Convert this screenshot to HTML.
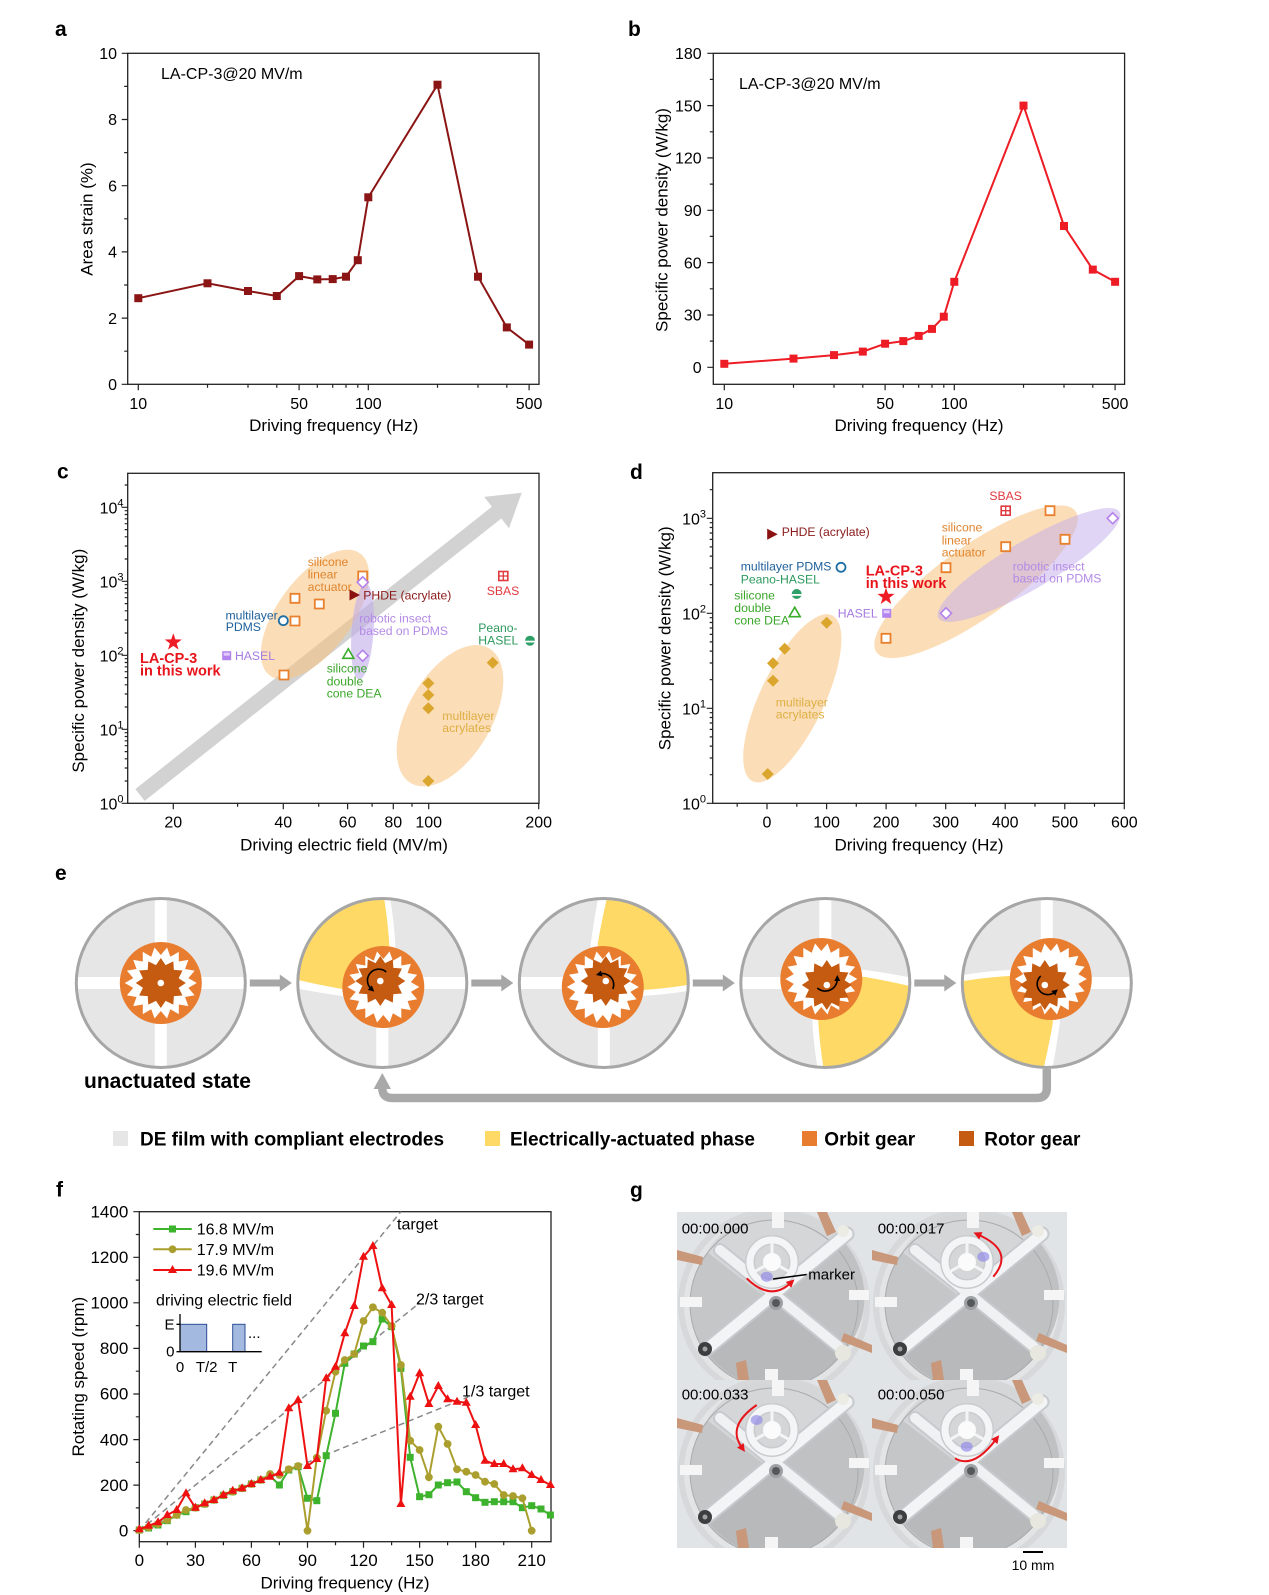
<!DOCTYPE html>
<html><head><meta charset="utf-8">
<style>html,body{margin:0;padding:0;background:#fff}svg{display:block}text{font-family:"Liberation Sans",Arial,sans-serif;fill:#000}</style>
</head>
<body>
<svg width="1269" height="1595" viewBox="0 0 1269 1595" xmlns="http://www.w3.org/2000/svg">
<defs>
<marker id="mA" markerWidth="8" markerHeight="8" refX="4" refY="4" markerUnits="userSpaceOnUse" overflow="visible"><rect width="8" height="8" fill="#8b1414"/></marker>
<marker id="mB" markerWidth="8" markerHeight="8" refX="4" refY="4" markerUnits="userSpaceOnUse" overflow="visible"><rect width="8" height="8" fill="#ee1c24"/></marker>
<marker id="mG" markerWidth="7" markerHeight="7" refX="3.5" refY="3.5" markerUnits="userSpaceOnUse" overflow="visible"><rect width="7" height="7" fill="#3db22d"/></marker>
<marker id="mO" markerWidth="8" markerHeight="8" refX="4" refY="4" markerUnits="userSpaceOnUse" overflow="visible"><circle cx="4" cy="4" r="3.9" fill="#aa9f2e"/></marker>
<marker id="mR" markerWidth="9" markerHeight="9" refX="4.5" refY="5" markerUnits="userSpaceOnUse" overflow="visible"><path d="M4.5 0L9 8H0z" fill="#ee1111"/></marker>
<marker id="ahK" markerWidth="6" markerHeight="6" refX="2" refY="3" orient="auto" markerUnits="userSpaceOnUse" overflow="visible"><path d="M0 0L6 3L0 6z" fill="#000"/></marker>
<marker id="ahR" markerWidth="8" markerHeight="8" refX="2" refY="4" orient="auto" markerUnits="userSpaceOnUse" overflow="visible"><path d="M0 0L8 4L0 8z" fill="#e8141c"/></marker>

<path id="osq" d="M-4.5-4.5h9v9h-9z" fill="#fff" stroke="#e9802d" stroke-width="1.8"/>
<path id="pdia" d="M0-5.5L5.5 0 0 5.5-5.5 0z" fill="#fff" stroke="#b581ea" stroke-width="1.6"/>
<path id="gdia" d="M0-6L6 0 0 6-6 0z" fill="#dba62e"/>
<circle id="bcir" r="4.5" fill="#fff" stroke="#1d6fa5" stroke-width="1.8"/>
<path id="rtri" d="M-4.5-5.5L6 0-4.5 5.5z" fill="#8b1010"/>
<path id="gtri" d="M0-5.5L5.5 4-5.5 4z" fill="#fff" stroke="#3aab2a" stroke-width="1.6"/>
<g id="hsq"><rect x="-4.5" y="-4.5" width="9" height="9" fill="#b383ee"/><rect x="-3" y="-3" width="6" height="3" fill="#e0cdfb"/></g>
<g id="sbas"><rect x="-4.5" y="-4.5" width="9" height="9" fill="#fff" stroke="#e0393e" stroke-width="1.6"/><path d="M0-4.5v9M-4.5 0h9" stroke="#e0393e" stroke-width="1.3"/></g>
<g id="pean"><circle r="5" fill="#2e9f66"/><rect x="-5" y="0" width="10" height="1.8" fill="#fff"/></g>
<polygon id="star" points="0,-10 2.35,-3.24 9.51,-3.09 3.8,1.24 5.88,8.09 0,4 -5.88,8.09 -3.8,1.24 -9.51,-3.09 -2.35,-3.24" fill="#ee1c25"/>

<g id="diskU">
<circle r="84" fill="#fff"/>
<g fill="#e6e6e6">
<path d="M-6-6L-83.79-6A84 84 0 0 1-6-83.79Z"/>
<path d="M6-6L6-83.79A84 84 0 0 1 83.79-6Z"/>
<path d="M6 6L83.79 6A84 84 0 0 1 6 83.79Z"/>
<path d="M-6 6L-6 83.79A84 84 0 0 1-83.79 6Z"/>
</g>
<circle r="84.5" fill="none" stroke="#a6a6a6" stroke-width="3"/>
</g>
<g id="diskA">
<circle r="84" fill="#fff"/>
<path d="M2-83.98Q9-40 8 6L-40 6Q-68 1-83.95-3A84 84 0 0 1 2-83.98Z" fill="#fed966"/>
<g fill="#e6e6e6">
<path d="M13-6L83.79-6A84 84 0 0 0 8-83.62Q15-40 13-6Z"/>
<path d="M6 6L83.79 6A84 84 0 0 1 6 83.79Z"/>
<path d="M-6 13L-6 83.79A84 84 0 0 1-83.8 5.8Q-68 9-40 13Z"/>
</g>
<circle r="84.5" fill="none" stroke="#a6a6a6" stroke-width="3"/>
</g>
<g id="orbit"><circle r="41" fill="#e97d2f"/><polygon fill="#fff" points="36,0 27.57,4.86 33.83,12.31 24.25,14 27.58,23.14 18,21.45 18,31.18 9.58,26.31 6.25,35.45 0,28 -6.25,35.45 -9.58,26.31 -18,31.18 -18,21.45 -27.58,23.14 -24.25,14 -33.83,12.31 -27.57,4.86 -36,0 -27.57,-4.86 -33.83,-12.31 -24.25,-14 -27.58,-23.14 -18,-21.45 -18,-31.18 -9.58,-26.31 -6.25,-35.45 0,-28 6.25,-35.45 9.58,-26.31 18,-31.18 18,-21.45 27.58,-23.14 24.25,-14 33.83,-12.31 27.57,-4.86"/></g>
<g id="rotor"><polygon fill="#c55a11" points="25,0 17.87,4.79 21.65,12.5 13.08,13.08 12.5,21.65 4.79,17.87 0,25 -4.79,17.87 -12.5,21.65 -13.08,13.08 -21.65,12.5 -17.87,4.79 -25,0 -17.87,-4.79 -21.65,-12.5 -13.08,-13.08 -12.5,-21.65 -4.79,-17.87 0,-25 4.79,-17.87 12.5,-21.65 13.08,-13.08 21.65,-12.5 17.87,-4.79"/><circle r="3.3" fill="#fff"/></g>
<path id="harr" d="M89-3.5H119V-8.5L131 0 119 8.5V3.5H89Z" fill="#a6a6a6"/>

<clipPath id="pclip"><rect width="195" height="168"/></clipPath>
<g id="photo">
<rect width="195" height="168" fill="#e1e4e7"/>
<circle cx="97" cy="92" r="96" fill="#d6d8da"/>
<circle cx="97" cy="92" r="90" fill="#e3e4e5"/>
<circle cx="97" cy="92" r="84" fill="#c4c6c7"/>
<path d="M97 92L30 40A84 84 0 0 1 167 30Z" fill="#d4d6d7"/>
<path d="M97 92L167 140A84 84 0 0 1 30 140Z" fill="#b7b9ba"/>
<path d="M97 92L167 30A84 84 0 0 1 167 140Z" fill="#bfc1c2"/>
<circle cx="97" cy="92" r="84" fill="none" stroke="#a9abad" stroke-width="1"/>
<g stroke-linecap="round">
<line x1="30" y1="137" x2="170" y2="22" stroke="#c7cacd" stroke-width="15"/>
<line x1="43" y1="38" x2="162" y2="135" stroke="#c7cacd" stroke-width="14"/>
<line x1="30" y1="137" x2="170" y2="22" stroke="#f3f4f5" stroke-width="11"/>
<line x1="43" y1="38" x2="162" y2="135" stroke="#eff1f2" stroke-width="10"/>
</g>
<circle cx="99" cy="91" r="7" fill="#9ea1a4"/>
<circle cx="99" cy="91" r="4" fill="#55585b"/>
<circle cx="95" cy="50" r="22" fill="none" stroke="#c9ccce" stroke-width="10"/>
<circle cx="95" cy="50" r="22" fill="none" stroke="#f4f5f6" stroke-width="7"/>
<path d="M95 50L95 30M95 50L77 60M95 50L113 60" stroke="#f4f5f6" stroke-width="3"/>
<circle cx="95" cy="50" r="9" fill="#fbfbfb"/>
<circle cx="28" cy="137" r="7" fill="#3c3e40"/>
<circle cx="28" cy="137" r="2.5" fill="#a0a2a4"/>
<circle cx="166" cy="141" r="8" fill="#e7e7df"/>
<circle cx="166" cy="19" r="6" fill="#ecece4"/>
<g fill="#c9977a">
<path d="M0 38L26 45 25 53 0 48Z"/>
<path d="M140 0L150 0 159 20 150 24Z"/>
<path d="M167 121L195 133 195 141 164 129Z"/>
<path d="M59 151L69 148 72 168 61 168Z"/>
</g>
<g fill="#f5f5f5">
<rect x="95" y="0" width="12" height="16"/>
<rect x="3" y="85" width="22" height="10"/>
<rect x="172" y="78" width="20" height="10"/>
<rect x="88" y="157" width="13" height="11"/>
</g>
</g>
</defs>

<!-- ===== Panel a ===== -->
<text x="55" y="36" font-size="21" font-weight="bold">a</text>
<rect x="127.7" y="53.3" width="411.3" height="331" fill="none" stroke="#222" stroke-width="1.3"/>
<path stroke="#222" stroke-width="1.2" fill="none" d="M138.3 384.3v6M299.1 384.3v6M368.3 384.3v6M529.1 384.3v6M207.5 384.3v3.5M248 384.3v3.5M276.8 384.3v3.5M317.3 384.3v3.5M332.7 384.3v3.5M346 384.3v3.5M357.8 384.3v3.5M437.5 384.3v3.5M478 384.3v3.5M506.8 384.3v3.5M127.7 384.3h-6M127.7 318.1h-6M127.7 251.9h-6M127.7 185.7h-6M127.7 119.5h-6M127.7 53.3h-6M127.7 351.2h-3.5M127.7 285h-3.5M127.7 218.8h-3.5M127.7 152.6h-3.5M127.7 86.4h-3.5"/>
<g font-size="16" text-anchor="middle"><text x="138.3" y="409">10</text><text x="299.1" y="409">50</text><text x="368.3" y="409">100</text><text x="529.1" y="409">500</text></g>
<g font-size="16" text-anchor="end"><text x="117" y="390">0</text><text x="117" y="323.8">2</text><text x="117" y="257.6">4</text><text x="117" y="191.4">6</text><text x="117" y="125.2">8</text><text x="117" y="59">10</text></g>
<text x="333.7" y="431" font-size="17" text-anchor="middle">Driving frequency (Hz)</text>
<text transform="translate(92.5,219) rotate(-90)" font-size="17" text-anchor="middle">Area strain (%)</text>
<text x="161" y="78.8" font-size="16">LA-CP-3@20 MV/m</text>
<polyline fill="none" stroke="#8b1414" stroke-width="2" marker-start="url(#mA)" marker-mid="url(#mA)" marker-end="url(#mA)" points="138.3,298.2 207.5,283.3 248,291 276.8,296 299.1,276.1 317.3,279.4 332.7,279.1 346,276.7 357.8,260.2 368.3,197.3 437.5,84.7 478,276.7 506.8,327.4 529.1,344.6"/>

<!-- ===== Panel b ===== -->
<text x="628" y="36" font-size="21" font-weight="bold">b</text>
<rect x="713.3" y="53.3" width="411.3" height="331" fill="none" stroke="#222" stroke-width="1.3"/>
<path stroke="#222" stroke-width="1.2" fill="none" d="M724.3 384.3v6M885.1 384.3v6M954.3 384.3v6M1115.1 384.3v6M793.5 384.3v3.5M834 384.3v3.5M862.8 384.3v3.5M903.3 384.3v3.5M918.7 384.3v3.5M932 384.3v3.5M943.8 384.3v3.5M1023.5 384.3v3.5M1064 384.3v3.5M1092.8 384.3v3.5M713.3 367.3h-6M713.3 315h-6M713.3 262.6h-6M713.3 210.3h-6M713.3 157.9h-6M713.3 105.6h-6M713.3 53.3h-6M713.3 341.1h-3.5M713.3 288.8h-3.5M713.3 236.4h-3.5M713.3 184.1h-3.5M713.3 131.8h-3.5M713.3 79.4h-3.5"/>
<g font-size="16" text-anchor="middle"><text x="724.3" y="409">10</text><text x="885.1" y="409">50</text><text x="954.3" y="409">100</text><text x="1115.1" y="409">500</text></g>
<g font-size="16" text-anchor="end"><text x="701.7" y="373">0</text><text x="701.7" y="320.7">30</text><text x="701.7" y="268.3">60</text><text x="701.7" y="216">90</text><text x="701.7" y="163.6">120</text><text x="701.7" y="111.3">150</text><text x="701.7" y="59">180</text></g>
<text x="919" y="431" font-size="17" text-anchor="middle">Driving frequency (Hz)</text>
<text transform="translate(667.5,220) rotate(-90)" font-size="17" text-anchor="middle">Specific power density (W/kg)</text>
<text x="739" y="88.8" font-size="16">LA-CP-3@20 MV/m</text>
<polyline fill="none" stroke="#ee1c24" stroke-width="2" marker-start="url(#mB)" marker-mid="url(#mB)" marker-end="url(#mB)" points="724.3,363.8 793.5,358.6 834,355.1 862.8,351.6 885.1,343.7 903.3,341.1 918.7,335.9 932,328.9 943.8,316.7 954.3,281.8 1023.5,105.6 1064,226 1092.8,269.6 1115.1,281.8"/>

<!-- ===== Panel c ===== -->
<text x="57" y="478.5" font-size="21" font-weight="bold">c</text>
<polygon points="135.3,789.1 491.9,506.7 484.2,496.9 521.7,492.7 509,528.3 501.3,518.5 144.7,800.9" fill="#d2d2d2"/>
<ellipse cx="315" cy="614.5" rx="76" ry="37" transform="rotate(-53.4 315 614.5)" fill="#f7c27e" opacity="0.55"/>
<ellipse cx="362.5" cy="631.7" rx="11" ry="48" transform="rotate(4 362.5 631.7)" fill="#c2ace9" opacity="0.6"/>
<ellipse cx="450" cy="715.7" rx="78" ry="42" transform="rotate(-60 450 715.7)" fill="#f7c27e" opacity="0.55"/>
<rect x="127.7" y="473.3" width="411.3" height="330" fill="none" stroke="#222" stroke-width="1.3"/>
<path stroke="#222" stroke-width="1.2" fill="none" d="M173.3 803.3v6M283.3 803.3v6M347.6 803.3v6M393.3 803.3v6M428.7 803.3v6M538.7 803.3v6M237.6 803.3v3.5M318.7 803.3v3.5M372.1 803.3v3.5M412 803.3v3.5M127.7 803.3h-6M127.7 729.3h-6M127.7 655.3h-6M127.7 581.3h-6M127.7 507.3h-6M127.7 781h-3M127.7 768h-3M127.7 758.8h-3M127.7 751.6h-3M127.7 745.7h-3M127.7 740.8h-3M127.7 736.5h-3M127.7 732.7h-3M127.7 707h-3M127.7 694h-3M127.7 684.8h-3M127.7 677.6h-3M127.7 671.7h-3M127.7 666.8h-3M127.7 662.5h-3M127.7 658.7h-3M127.7 633h-3M127.7 620h-3M127.7 610.8h-3M127.7 603.6h-3M127.7 597.7h-3M127.7 592.8h-3M127.7 588.5h-3M127.7 584.7h-3M127.7 559h-3M127.7 546h-3M127.7 536.8h-3M127.7 529.6h-3M127.7 523.7h-3M127.7 518.8h-3M127.7 514.5h-3M127.7 510.7h-3M127.7 485h-3"/>
<g font-size="16" text-anchor="middle"><text x="173.3" y="827.7">20</text><text x="283.3" y="827.7">40</text><text x="347.6" y="827.7">60</text><text x="393.3" y="827.7">80</text><text x="428.7" y="827.7">100</text><text x="538.7" y="827.7">200</text></g>
<g font-size="16" text-anchor="end"><text x="123.5" y="809.3">10<tspan dy="-7" font-size="11">0</tspan></text><text x="123.5" y="735.3">10<tspan dy="-7" font-size="11">1</tspan></text><text x="123.5" y="661.3">10<tspan dy="-7" font-size="11">2</tspan></text><text x="123.5" y="587.3">10<tspan dy="-7" font-size="11">3</tspan></text><text x="123.5" y="513.3">10<tspan dy="-7" font-size="11">4</tspan></text></g>
<text x="344" y="850.5" font-size="17" text-anchor="middle">Driving electric field (MV/m)</text>
<text transform="translate(84,660.7) rotate(-90)" font-size="17" text-anchor="middle">Specific power density (W/kg)</text>
<use href="#osq" x="295" y="598.3"/><use href="#osq" x="295" y="621"/><use href="#osq" x="319.3" y="604"/><use href="#osq" x="362.7" y="576"/><use href="#osq" x="284" y="675"/>
<use href="#pdia" x="362.7" y="582.3"/><use href="#pdia" x="362.7" y="655.7"/>
<use href="#gdia" x="428.3" y="683.3"/><use href="#gdia" x="428.3" y="695"/><use href="#gdia" x="428.3" y="708.3"/><use href="#gdia" x="492.7" y="662.7"/><use href="#gdia" x="428.3" y="781"/>
<use href="#bcir" x="283.3" y="620.7"/>
<use href="#rtri" x="354" y="595"/>
<use href="#gtri" x="348.3" y="654.3"/>
<use href="#sbas" x="503.3" y="576"/>
<use href="#pean" x="530" y="640.7"/>
<use href="#hsq" x="226.7" y="655.7"/>
<use href="#star" transform="translate(173.3,642.3) scale(0.9)"/>
<g font-size="12.2">
<text x="307.7" y="566" style="fill:#e0852f">silicone</text><text x="307.7" y="578.6" style="fill:#e0852f">linear</text><text x="307.7" y="591" style="fill:#e0852f">actuator</text>
<text x="363.3" y="599.3" style="fill:#8b1a1a">PHDE (acrylate)</text>
<text x="277.7" y="619.3" text-anchor="end" style="fill:#1e5f9a">multilayer</text><text x="225.7" y="631" style="fill:#1e5f9a">PDMS</text>
<text x="359.3" y="622.6" style="fill:#b48ae6">robotic insect</text><text x="359.3" y="635" style="fill:#b48ae6">based on PDMS</text>
<text x="235" y="660" style="fill:#a77be0">HASEL</text>
<text x="326.7" y="672.6" style="fill:#3aa62a">silicone</text><text x="326.7" y="685.3" style="fill:#3aa62a">double</text><text x="326.7" y="697.6" style="fill:#3aa62a">cone DEA</text>
<text x="486.7" y="595" style="fill:#e0393e">SBAS</text>
<text x="478.3" y="632" style="fill:#2e9a5e">Peano-</text><text x="478.3" y="644.3" style="fill:#2e9a5e">HASEL</text>
<text x="442.3" y="720" style="fill:#deae43">multilayer</text><text x="442.3" y="732" style="fill:#deae43">acrylates</text>
</g>
<g font-size="14.5" font-weight="bold"><text x="140" y="663" style="fill:#e8141c">LA-CP-3</text><text x="140" y="675.7" style="fill:#e8141c">in this work</text></g>

<!-- ===== Panel d ===== -->
<text x="630" y="479" font-size="21" font-weight="bold">d</text>
<ellipse cx="976" cy="581.7" rx="122" ry="36" transform="rotate(-35.3 976 581.7)" fill="#f7c27e" opacity="0.55"/>
<ellipse cx="1029" cy="565" rx="105" ry="24" transform="rotate(-30.4 1029 565)" fill="#c2ace9" opacity="0.5"/>
<ellipse cx="792.3" cy="698.3" rx="92" ry="32" transform="rotate(-64.4 792.3 698.3)" fill="#f7c27e" opacity="0.55"/>
<rect x="712.7" y="472.7" width="411.6" height="330.6" fill="none" stroke="#222" stroke-width="1.3"/>
<path stroke="#222" stroke-width="1.2" fill="none" d="M767 803.3v6M826.6 803.3v6M886.1 803.3v6M945.7 803.3v6M1005.2 803.3v6M1064.8 803.3v6M1124.3 803.3v6M737.2 803.3v3.5M796.8 803.3v3.5M856.3 803.3v3.5M915.9 803.3v3.5M975.4 803.3v3.5M1035 803.3v3.5M1094.5 803.3v3.5M712.7 803.3h-6M712.7 708.3h-6M712.7 613.3h-6M712.7 518.3h-6M712.7 774.7h-3M712.7 758h-3M712.7 746.1h-3M712.7 736.9h-3M712.7 729.4h-3M712.7 723h-3M712.7 717.5h-3M712.7 712.7h-3M712.7 679.7h-3M712.7 663h-3M712.7 651.1h-3M712.7 641.9h-3M712.7 634.4h-3M712.7 628h-3M712.7 622.5h-3M712.7 617.7h-3M712.7 584.7h-3M712.7 568h-3M712.7 556.1h-3M712.7 546.9h-3M712.7 539.4h-3M712.7 533h-3M712.7 527.5h-3M712.7 522.7h-3M712.7 489.7h-3"/>
<g font-size="16" text-anchor="middle"><text x="767" y="827.7">0</text><text x="826.6" y="827.7">100</text><text x="886.1" y="827.7">200</text><text x="945.7" y="827.7">300</text><text x="1005.2" y="827.7">400</text><text x="1064.8" y="827.7">500</text><text x="1124.3" y="827.7">600</text></g>
<g font-size="16" text-anchor="end"><text x="706" y="809.3">10<tspan dy="-7" font-size="11">0</tspan></text><text x="706" y="714.3">10<tspan dy="-7" font-size="11">1</tspan></text><text x="706" y="619.3">10<tspan dy="-7" font-size="11">2</tspan></text><text x="706" y="524.3">10<tspan dy="-7" font-size="11">3</tspan></text></g>
<text x="919" y="850.5" font-size="17" text-anchor="middle">Driving frequency (Hz)</text>
<text transform="translate(670.5,638.3) rotate(-90)" font-size="17" text-anchor="middle">Specific power density (W/kg)</text>
<use href="#osq" x="886" y="638.3"/><use href="#osq" x="946" y="567.7"/><use href="#osq" x="1005.7" y="546.7"/><use href="#osq" x="1050" y="510.7"/><use href="#osq" x="1065" y="539.3"/>
<use href="#pdia" x="946" y="613.3"/><use href="#pdia" x="1112.7" y="518.3"/>
<use href="#gdia" x="767.7" y="774"/><use href="#gdia" x="773" y="663.3"/><use href="#gdia" x="773" y="680.7"/><use href="#gdia" x="784.7" y="648.7"/><use href="#gdia" x="826.7" y="622.7"/>
<use href="#bcir" x="841" y="567.3"/>
<use href="#rtri" x="771.7" y="534.3"/>
<use href="#gtri" x="794.7" y="612.7"/>
<use href="#pean" x="796.7" y="594"/>
<use href="#hsq" x="886.7" y="613.3"/>
<use href="#sbas" x="1005.7" y="510.7"/>
<use href="#star" transform="translate(886,596.7) scale(0.9)"/>
<g font-size="12.2">
<text x="781.7" y="536" style="fill:#8b1a1a">PHDE (acrylate)</text>
<text x="740.7" y="570.3" style="fill:#1e5f9a">multilayer PDMS</text>
<text x="740.7" y="583.6" style="fill:#2e9a5e">Peano-HASEL</text>
<text x="734.3" y="599.6" style="fill:#3aa62a">silicone</text><text x="734.3" y="612" style="fill:#3aa62a">double</text><text x="734.3" y="624.3" style="fill:#3aa62a">cone DEA</text>
<text x="877.7" y="617.6" text-anchor="end" style="fill:#a77be0">HASEL</text>
<text x="1005.7" y="500" text-anchor="middle" style="fill:#e0393e">SBAS</text>
<text x="941.7" y="531.6" style="fill:#e0852f">silicone</text><text x="941.7" y="544.3" style="fill:#e0852f">linear</text><text x="941.7" y="556.6" style="fill:#e0852f">actuator</text>
<text x="1012.7" y="570.3" style="fill:#b48ae6">robotic insect</text><text x="1012.7" y="582.6" style="fill:#b48ae6">based on PDMS</text>
<text x="775.7" y="706.6" style="fill:#deae43">multilayer</text><text x="775.7" y="718.6" style="fill:#deae43">acrylates</text>
</g>
<g font-size="14.5" font-weight="bold"><text x="865.7" y="575.7" style="fill:#e8141c">LA-CP-3</text><text x="865.7" y="588" style="fill:#e8141c">in this work</text></g>

<!-- ===== Panel e ===== -->
<text x="55" y="880" font-size="21" font-weight="bold">e</text>
<g transform="translate(160.8,983)"><use href="#diskU"/><use href="#orbit"/><use href="#rotor"/><use href="#harr"/></g>
<g transform="translate(382.3,983)"><use href="#diskA"/><use href="#orbit" x="1" y="4"/><use href="#rotor" x="-2" y="-2"/><path d="M4,-11 A11 11 0 0 0 -11,6" fill="none" stroke="#000" stroke-width="1.6" marker-end="url(#ahK)"/><use href="#harr"/></g>
<g transform="translate(603.8,983)"><use href="#diskA" transform="rotate(90)"/><use href="#orbit" x="-1" y="4"/><use href="#rotor" x="2" y="-2"/><path d="M9,6 A11 11 0 0 0 -4,-9" fill="none" stroke="#000" stroke-width="1.6" marker-end="url(#ahK)"/><use href="#harr"/></g>
<g transform="translate(825.3,983)"><use href="#diskA" transform="rotate(180)"/><use href="#orbit" x="-4" y="-4"/><use href="#rotor" x="1.5" y="2"/><path d="M-8,5 A12 12 0 0 0 12,-4" fill="none" stroke="#000" stroke-width="1.6" marker-end="url(#ahK)"/><use href="#harr"/></g>
<g transform="translate(1046.8,983)"><use href="#diskA" transform="rotate(270)"/><use href="#orbit" x="4" y="-4"/><use href="#rotor" x="-2" y="2"/><path d="M-6,-7 A10 10 0 0 0 8,9" fill="none" stroke="#000" stroke-width="1.6" marker-end="url(#ahK)"/></g>
<path d="M1046.8 1069V1088Q1046.8 1098 1036.8 1098H392.3Q382.3 1098 382.3 1088V1086" fill="none" stroke="#a9a9a9" stroke-width="8.5"/>
<path d="M382.3 1073L391 1089H373.6Z" fill="#a9a9a9"/>
<text x="84" y="1088" font-size="21" font-weight="bold">unactuated state</text>
<rect x="113" y="1131" width="15" height="15" fill="#e6e6e6"/>
<rect x="485" y="1131" width="15" height="15" fill="#fed966"/>
<rect x="802" y="1131" width="15" height="15" fill="#e97d2f"/>
<rect x="959" y="1131" width="15" height="15" fill="#c55a11"/>
<g font-size="19" font-weight="bold"><text x="140" y="1145.5">DE film with compliant electrodes</text><text x="510" y="1145.5">Electrically-actuated phase</text><text x="824.3" y="1145.5">Orbit gear</text><text x="984.3" y="1145.5">Rotor gear</text></g>

<!-- ===== Panel f ===== -->
<text x="56" y="1196.5" font-size="21" font-weight="bold">f</text>
<rect x="139.3" y="1211.7" width="411.7" height="330" fill="none" stroke="#222" stroke-width="1.3"/>
<path stroke="#222" stroke-width="1.2" fill="none" d="M139.3 1541.7v6M195.4 1541.7v6M251.4 1541.7v6M307.5 1541.7v6M363.5 1541.7v6M419.6 1541.7v6M475.6 1541.7v6M531.7 1541.7v6M167.3 1541.7v3.5M223.4 1541.7v3.5M279.4 1541.7v3.5M335.5 1541.7v3.5M391.6 1541.7v3.5M447.6 1541.7v3.5M503.7 1541.7v3.5M139.3 1530.7h-6M139.3 1485.1h-6M139.3 1439.6h-6M139.3 1394h-6M139.3 1348.4h-6M139.3 1302.8h-6M139.3 1257.3h-6M139.3 1211.7h-6M139.3 1507.9h-3.5M139.3 1462.4h-3.5M139.3 1416.8h-3.5M139.3 1371.2h-3.5M139.3 1325.6h-3.5M139.3 1280.1h-3.5M139.3 1234.5h-3.5"/>
<g font-size="17" text-anchor="middle"><text x="139.3" y="1566">0</text><text x="195.4" y="1566">30</text><text x="251.4" y="1566">60</text><text x="307.5" y="1566">90</text><text x="363.5" y="1566">120</text><text x="419.6" y="1566">150</text><text x="475.6" y="1566">180</text><text x="531.7" y="1566">210</text></g>
<g font-size="17" text-anchor="end"><text x="128.3" y="1536.4">0</text><text x="128.3" y="1490.8">200</text><text x="128.3" y="1445.3">400</text><text x="128.3" y="1399.7">600</text><text x="128.3" y="1354.1">800</text><text x="128.3" y="1308.5">1000</text><text x="128.3" y="1263">1200</text><text x="128.3" y="1217.4">1400</text></g>
<text x="345" y="1588.4" font-size="17" text-anchor="middle">Driving frequency (Hz)</text>
<text transform="translate(84,1376.7) rotate(-90)" font-size="17" text-anchor="middle">Rotating speed (rpm)</text>
<g stroke="#888" stroke-width="1.5" stroke-dasharray="6,4" fill="none"><path d="M139.3 1530.7L400.9 1211.7"/><path d="M139.3 1530.7L419.6 1302.8"/><path d="M139.3 1530.7L468.2 1397"/></g>
<g font-size="16"><text x="397" y="1229.5">target</text><text x="416" y="1304.5">2/3 target</text><text x="462" y="1396.5">1/3 target</text></g>
<polyline fill="none" stroke="#3db22d" stroke-width="2" marker-start="url(#mG)" marker-mid="url(#mG)" marker-end="url(#mG)" points="139.3,1530 148.6,1528 158,1525 167.3,1520.7 176.7,1515 186,1511.7 195.4,1507.7 204.7,1504 214,1500 223.4,1495.3 232.7,1491.7 242.1,1488.3 251.4,1484 260.8,1480 270.1,1476 279.4,1485 288.8,1470 298.1,1466.7 307.5,1498.3 316.8,1500.7 326.2,1455.7 335.5,1413.3 344.8,1363.3 354.2,1354 363.5,1346 372.9,1341.7 382.2,1319 391.6,1326.7 400.9,1368.3 410.2,1457.3 419.6,1496.7 428.9,1494.7 438.3,1485 447.6,1482.7 457,1482 466.3,1491.7 475.6,1497.7 485,1502.3 494.3,1501.7 503.7,1501.7 513,1501.7 522.4,1507.7 531.7,1505.7 541,1509 550.4,1515"/>
<polyline fill="none" stroke="#aa9f2e" stroke-width="2" marker-start="url(#mO)" marker-mid="url(#mO)" marker-end="url(#mO)" points="139.3,1530 148.6,1527.3 158,1524 167.3,1520 176.7,1515 186,1510 195.4,1507.7 204.7,1504 214,1500 223.4,1495.3 232.7,1491.7 242.1,1488.3 251.4,1484 260.8,1480 270.1,1474 279.4,1475 288.8,1469.3 298.1,1466 307.5,1530.7 316.8,1457.7 326.2,1410.7 335.5,1371.7 344.8,1360 354.2,1354 363.5,1321 372.9,1307.3 382.2,1312.7 391.6,1326 400.9,1365 410.2,1440.7 419.6,1450 428.9,1477.3 438.3,1426.7 447.6,1444 457,1469.3 466.3,1471.7 475.6,1475 485,1481.7 494.3,1484 503.7,1495 513,1496 522.4,1498.3 531.7,1530.7"/>
<polyline fill="none" stroke="#ee1111" stroke-width="2" marker-start="url(#mR)" marker-mid="url(#mR)" marker-end="url(#mR)" points="139.3,1529.3 148.6,1525.7 158,1522.3 167.3,1515 176.7,1510 186,1493.3 195.4,1507.7 204.7,1503.3 214,1500 223.4,1495 232.7,1490.7 242.1,1488.3 251.4,1484 260.8,1480 270.1,1476.7 279.4,1472.7 288.8,1408.3 298.1,1400 307.5,1466 316.8,1459 326.2,1378.3 335.5,1366.7 344.8,1333.3 354.2,1306 363.5,1256.7 372.9,1246 382.2,1288.3 391.6,1305 400.9,1504 410.2,1396.7 419.6,1373.3 428.9,1404 438.3,1386 447.6,1399.3 457,1401.7 466.3,1402.7 475.6,1425 485,1460.7 494.3,1464 503.7,1464 513,1469.3 522.4,1468.3 531.7,1475 541,1480 550.4,1485"/>
<polyline fill="none" stroke="#3db22d" stroke-width="2" marker-mid="url(#mG)" points="153.3,1229 172.5,1229 191.7,1229"/>
<polyline fill="none" stroke="#aa9f2e" stroke-width="2" marker-mid="url(#mO)" points="153.3,1249.3 172.5,1249.3 191.7,1249.3"/>
<polyline fill="none" stroke="#ee1111" stroke-width="2" marker-mid="url(#mR)" points="153.3,1270 172.5,1270 191.7,1270"/>
<g font-size="16"><text x="196.7" y="1234.7">16.8 MV/m</text><text x="196.7" y="1255">17.9 MV/m</text><text x="196.7" y="1275.7">19.6 MV/m</text></g>
<text x="156" y="1305.5" font-size="16">driving electric field</text>
<rect x="180" y="1324.3" width="26.7" height="27.4" fill="#a3b9e0" stroke="#2d4e95" stroke-width="1"/>
<rect x="232.7" y="1324.3" width="12.3" height="27.4" fill="#a3b9e0" stroke="#2d4e95" stroke-width="1"/>
<path d="M180 1314V1351.7H261.7M176.5 1324.3H180M176.5 1351.7H180" stroke="#000" stroke-width="1.3" fill="none"/>
<g font-size="15"><text x="174.5" y="1329.5" text-anchor="end">E</text><text x="174.5" y="1356.5" text-anchor="end">0</text><text x="180" y="1372" text-anchor="middle">0</text><text x="206.7" y="1372" text-anchor="middle">T/2</text><text x="232.7" y="1372" text-anchor="middle">T</text><text x="248" y="1338">...</text></g>

<!-- ===== Panel g ===== -->
<text x="630" y="1197" font-size="21" font-weight="bold">g</text>
<g transform="translate(677,1212)" clip-path="url(#pclip)"><use href="#photo"/></g>
<g transform="translate(872,1212)" clip-path="url(#pclip)"><use href="#photo"/></g>
<g transform="translate(677,1380)" clip-path="url(#pclip)"><use href="#photo"/></g>
<g transform="translate(872,1380)" clip-path="url(#pclip)"><use href="#photo"/></g>
<g fill="#8f86e8" opacity="0.65"><ellipse cx="766.7" cy="1276.7" rx="6" ry="5"/><ellipse cx="983.3" cy="1256.7" rx="6" ry="5"/><ellipse cx="756.7" cy="1420" rx="6" ry="5"/><ellipse cx="966.7" cy="1446.7" rx="6" ry="5"/></g>
<g fill="none" stroke="#e8141c" stroke-width="2">
<path d="M746.7 1278.3Q770.3 1301.4 790 1283.5" marker-end="url(#ahR)"/>
<path d="M993.3 1276.7Q1015 1251.3 979 1235" marker-end="url(#ahR)"/>
<path d="M756.7 1405Q726.7 1425.8 741.5 1447" marker-end="url(#ahR)"/>
<path d="M955 1458.3Q973.3 1469.2 995.5 1440" marker-end="url(#ahR)"/>
</g>
<path d="M773 1279L806.7 1274.5" stroke="#000" stroke-width="1.5"/>
<g font-size="15"><text x="808.3" y="1279.3">marker</text><text x="681.7" y="1233.6">00:00.000</text><text x="877.7" y="1233.6">00:00.017</text><text x="681.7" y="1399.6">00:00.033</text><text x="877.7" y="1399.6">00:00.050</text></g>
<path d="M1023 1552H1043" stroke="#000" stroke-width="2"/>
<text x="1033" y="1570" font-size="14" text-anchor="middle">10 mm</text>
</svg>
</body></html>
